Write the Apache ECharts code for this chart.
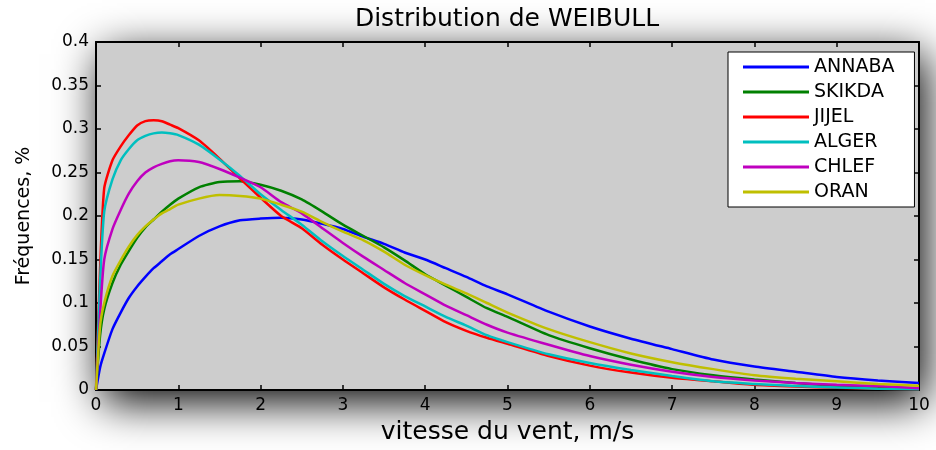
<!DOCTYPE html>
<html>
<head>
<meta charset="utf-8">
<title>Distribution de WEIBULL</title>
<script src="https://cdn.jsdelivr.net/npm/echarts@6/dist/echarts.min.js"></script>
<style>
  html, body { margin: 0; padding: 0; background: #fff; }
  #main { width: 936px; height: 450px; }
</style>
</head>
<body>
<div id="main"></div>
<script>
// vitesse du vent, m/s
const speeds = [0, 0.05, 0.1, 0.2, 0.3, 0.4, 0.5, 0.6, 0.7, 0.8, 0.9, 1, 1.25, 1.5, 1.75, 2, 2.25, 2.5, 2.75, 3,
  3.25, 3.5, 3.75, 4, 4.25, 4.5, 4.75, 5, 5.5, 6, 6.5, 7, 7.5, 8, 8.5, 9, 9.5, 10]

// fréquences
const annaba = [0, 0.026, 0.042, 0.070, 0.089, 0.106, 0.119, 0.130, 0.140, 0.148, 0.156, 0.162, 0.177, 0.188, 0.195, 0.197, 0.198, 0.196, 0.191, 0.185,
  0.176, 0.168, 0.158, 0.150, 0.140, 0.130, 0.119, 0.110, 0.090, 0.073, 0.059, 0.047, 0.035, 0.027, 0.021, 0.015, 0.011, 0.008]
const skikda = [0, 0.063, 0.093, 0.123, 0.144, 0.160, 0.175, 0.187, 0.196, 0.205, 0.213, 0.220, 0.233, 0.239, 0.240, 0.236, 0.229, 0.219, 0.205, 0.190,
  0.177, 0.164, 0.149, 0.133, 0.120, 0.107, 0.094, 0.084, 0.063, 0.048, 0.035, 0.024, 0.017, 0.012, 0.008, 0.005, 0.003, 0.002]
const jijel = [0, 0.14, 0.232, 0.264, 0.280, 0.293, 0.304, 0.309, 0.310, 0.309, 0.305, 0.301, 0.287, 0.266, 0.243, 0.221, 0.200, 0.186, 0.167, 0.150,
  0.134, 0.118, 0.104, 0.091, 0.078, 0.068, 0.060, 0.053, 0.039, 0.028, 0.020, 0.014, 0.010, 0.006, 0.004, 0.0025, 0.0015, 0.001]
const alger = [0, 0.125, 0.205, 0.242, 0.264, 0.277, 0.287, 0.292, 0.295, 0.296, 0.295, 0.293, 0.282, 0.265, 0.246, 0.225, 0.207, 0.190, 0.171, 0.154,
  0.138, 0.122, 0.108, 0.096, 0.084, 0.074, 0.063, 0.055, 0.041, 0.031, 0.023, 0.016, 0.010, 0.007, 0.0045, 0.003, 0.0015, 0.001]
const chlef = [0, 0.088, 0.150, 0.185, 0.207, 0.226, 0.240, 0.250, 0.256, 0.260, 0.263, 0.264, 0.262, 0.254, 0.244, 0.233, 0.216, 0.203, 0.186, 0.169,
  0.153, 0.138, 0.123, 0.110, 0.097, 0.086, 0.075, 0.066, 0.052, 0.039, 0.029, 0.021, 0.015, 0.011, 0.008, 0.006, 0.0045, 0.002]
const oran = [0, 0.074, 0.100, 0.131, 0.149, 0.165, 0.178, 0.188, 0.196, 0.203, 0.208, 0.213, 0.220, 0.224, 0.223, 0.220, 0.213, 0.205, 0.193, 0.182,
  0.172, 0.159, 0.144, 0.132, 0.121, 0.111, 0.100, 0.089, 0.070, 0.055, 0.042, 0.032, 0.024, 0.017, 0.013, 0.010, 0.007, 0.005]

const stations = ['ANNABA', 'SKIKDA', 'JIJEL', 'ALGER', 'CHLEF', 'ORAN']
const stationValues = [annaba, skikda, jijel, alger, chlef, oran]
const colors = ['#0000ff', '#008000', '#ff0000', '#00bfbf', '#bf00bf', '#bfbf00']

const font = 'DejaVu Sans'

function boxAxis (position, min, max, interval, showLabel) {
  return {
    type: 'value',
    position: position,
    min: min,
    max: max,
    interval: interval,
    axisLine: { show: true, onZero: false, lineStyle: { color: '#000', width: 2 } },
    axisTick: { show: true, inside: true, length: 5, lineStyle: { color: '#000', width: 1.5 } },
    axisLabel: { show: showLabel, color: '#000', fontSize: 17, fontFamily: font, margin: 7 },
    splitLine: { show: false }
  }
}

const xBottom = boxAxis('bottom', 0, 10, 1, true)
xBottom.name = 'vitesse du vent, m/s'
xBottom.nameLocation = 'middle'
xBottom.nameGap = 30
xBottom.nameTextStyle = { color: '#000', fontSize: 25, fontFamily: font }

const yLeft = boxAxis('left', 0, 0.4, 0.05, true)
yLeft.name = 'Fréquences, %'
yLeft.nameLocation = 'middle'
yLeft.nameGap = 62
yLeft.nameTextStyle = { color: '#000', fontSize: 19, fontFamily: font }

const chart = echarts.init(document.getElementById('main'))
chart.setOption({
  animation: false,
  backgroundColor: '#fff',
  title: {
    text: 'Distribution de WEIBULL',
    left: 507,
    top: 7,
    padding: 0,
    textAlign: 'center',
    textStyle: { color: '#000', fontSize: 25, fontWeight: 'normal', fontFamily: font }
  },
  grid: {
    left: 96,
    right: 17,
    top: 42,
    bottom: 54,
    show: true,
    backgroundColor: '#cdcdcd',
    borderWidth: 0,
    // ombre portée du cadre, comme sur la figure d'origine
    shadowBlur: 42,
    shadowColor: 'rgba(0, 0, 0, 1)',
    shadowOffsetX: 6,
    shadowOffsetY: 12
  },
  legend: {
    orient: 'vertical',
    left: 728,
    top: 52,
    padding: [5, 20, 5, 15],
    itemGap: 5,
    itemWidth: 66,
    itemHeight: 3,
    icon: 'rect',
    backgroundColor: '#fff',
    borderColor: '#000',
    borderWidth: 1,
    textStyle: { color: '#000', fontSize: 19, fontFamily: font, lineHeight: 20 },
    data: stations
  },
  xAxis: [xBottom, boxAxis('top', 0, 10, 1, false)],
  yAxis: [yLeft, boxAxis('right', 0, 0.4, 0.05, false)],
  series: stations.map(function (name, i) {
    return {
      name: name,
      type: 'line',
      xAxisIndex: 0,
      yAxisIndex: 0,
      showSymbol: false,
      smooth: 0.2,
      color: colors[i],
      lineStyle: { color: colors[i], width: 2.5 },
      data: speeds.map(function (v, j) { return [v, stationValues[i][j]] })
    }
  })
})
</script>
</body>
</html>
